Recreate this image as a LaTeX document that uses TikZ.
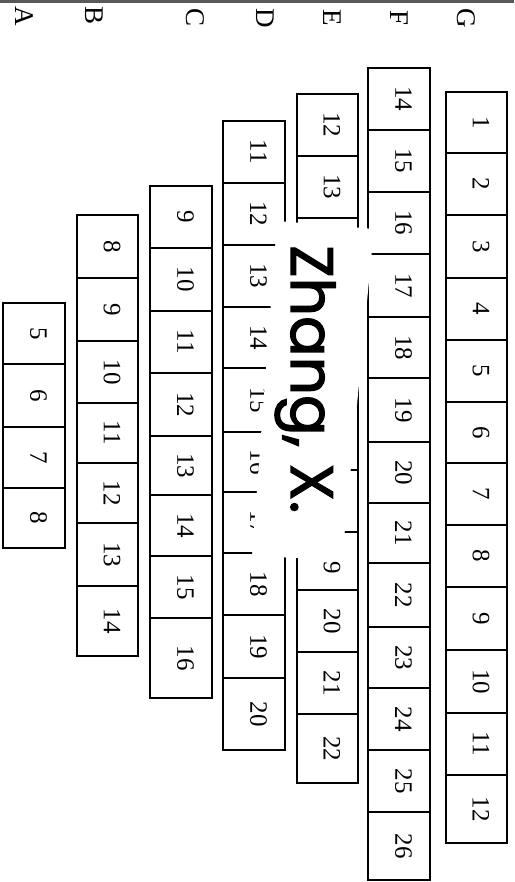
\documentclass[tikz,border=0pt]{standalone}
\usepackage{fontspec}
\setmainfont{Liberation Serif}
\newfontfamily\handfont{Poppins}[FakeBold=2]
\tikzset{
  cellline/.style={line width=1.7pt, black},
  seat/.style={rotate=-90, inner sep=0pt, font=\fontsize{25}{25}\selectfont},
  rowlabel/.style={rotate=-90, inner sep=0pt, font=\fontsize{27}{27}\selectfont},
  hand/.style={rotate=-90, inner sep=0pt, anchor=base west, font=\handfont\fontsize{60}{60}\selectfont},
  patch/.style={fill=white, draw=none},
  scanedge/.style={fill=black!65, draw=none},
}
\newcommand\seatstrip[5]{%
  \foreach \b [remember=\b as \p (initially 0), count=\i] in {#5} {%
    \ifnum\i>1
      \draw[cellline] (#2,\p) rectangle (#3,\b);
      \pgfmathtruncatemacro\n{#4+\i-2}
      \node[seat] (#1\n) at ({(#2+#3)/2+4.5},{(\p+\b)/2}) {\n};
    \fi
  }%
}
\begin{document}
\begin{tikzpicture}[x=1pt,y=-1pt]
\useasboundingbox (0,0) rectangle (514,882);
\fill[scanedge] (0,0) rectangle (514,3.5);
% seat strips
\seatstrip{G}{446}{507}{1}{92,153,215,278,340,402,463,525,587,650,713,775,843}
\seatstrip{F}{368}{430}{14}{68,130,192,254,317,378,442,503,563,627,688,750,812,880}
\seatstrip{E}{297}{358}{12}{94,156,218,281,344,407,470,532,590,652,714,783}
\seatstrip{D}{223}{285}{11}{121,183,245,307,368,432,492,553,615,678,750}
\seatstrip{C}{150}{212}{9}{186,248,311,373,436,495,556,618,698}
\seatstrip{B}{77}{138}{8}{215,278,341,403,463,523,586,656}
\seatstrip{A}{3}{65}{5}{303,364,427,488,548}
% pasted name label
\fill[patch] (277,221) -- (374,229) -- (342,560) -- (252,556) -- cycle;
\node[hand] (name) at (291,245) {Zhang, X.};
% row letters
\node[rowlabel] (lA) at (24,16) {A};
\node[rowlabel] (lB) at (94,16) {B};
\node[rowlabel] (lC) at (195,18) {C};
\node[rowlabel] (lD) at (265,18) {D};
\node[rowlabel] (lE) at (332,18) {E};
\node[rowlabel] (lF) at (399,18) {F};
\node[rowlabel] (lG) at (466,18) {G};
\end{tikzpicture}
\end{document}
